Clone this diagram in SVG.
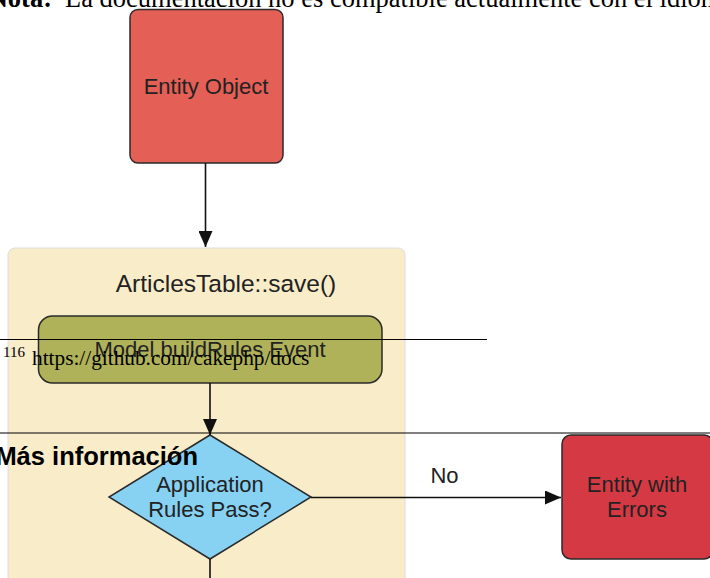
<svg xmlns="http://www.w3.org/2000/svg" width="710" height="578" viewBox="0 0 710 578">
  <defs>
    <style>
      .lbl { font-family: "Liberation Sans", Arial, sans-serif; font-size: 22px; fill: #222; text-anchor: middle; }
      .node { stroke: #2a2a2a; stroke-width: 1.5; }
      .edge { stroke: #111; stroke-width: 1.6; fill: none; }
      .page { font-family: "Liberation Serif", "Times New Roman", serif; fill: #000; }
      .rule { stroke: #000; stroke-width: 1; }
    </style>
    <marker id="arrow" viewBox="0 0 16 14" refX="16" refY="7" markerWidth="16" markerHeight="14" markerUnits="userSpaceOnUse" orient="auto">
      <path d="M0,0 L16,7 L0,14 Z" fill="#111"/>
    </marker>
  </defs>

  <rect width="710" height="578" fill="#fff"/>

  <!-- container for the save() call -->
  <g id="articles-table-save">
    <rect x="8" y="248" width="397" height="400" rx="7" fill="#F9ECC8" stroke="#dcdcdc" stroke-width="1"/>
    <text class="lbl" x="226" y="292" style="font-size:24.5px">ArticlesTable::save()</text>
  </g>

  <g id="entity-object">
    <rect class="node" x="130" y="9.5" width="153" height="153.5" rx="8" fill="#E45F55"/>
    <text class="lbl" x="206" y="94">Entity Object</text>
  </g>

  <g id="build-rules-event">
    <rect class="node" x="38.5" y="316" width="343.5" height="67" rx="14" fill="#B0B25A"/>
    <text class="lbl" x="210" y="357">Model.buildRules Event</text>
  </g>

  <g id="rules-pass">
    <polygon class="node" points="210,435 311,497 210,559 109,497" fill="#87D1F3"/>
    <text class="lbl" x="210" y="492">Application</text>
    <text class="lbl" x="210" y="517">Rules Pass?</text>
  </g>

  <g id="entity-with-errors">
    <rect class="node" x="562" y="435" width="151" height="124" rx="9" fill="#D53A44"/>
    <text class="lbl" x="637" y="492">Entity with</text>
    <text class="lbl" x="637" y="517">Errors</text>
  </g>

  <g id="connectors">
    <line class="edge" x1="205.5" y1="163" x2="205.5" y2="247" marker-end="url(#arrow)"/>
    <line class="edge" x1="210" y1="383" x2="210" y2="435" marker-end="url(#arrow)"/>
    <line class="edge" x1="311" y1="497.5" x2="561" y2="497.5" marker-end="url(#arrow)"/>
    <line class="edge" x1="210" y1="559" x2="210" y2="580"/>
    <text class="lbl" x="444.5" y="483">No</text>
  </g>

  <!-- surrounding page text and rules -->
  <g id="page-text">
    <text class="page" x="52" y="7" text-anchor="end" font-weight="bold" font-size="26.5">Nota:</text>
    <text class="page" x="65" y="7" font-size="26.5">La documentación no es compatible actualmente con el idioma</text>
    <line class="rule" x1="0" y1="339.5" x2="487" y2="339.5"/>
    <text class="page" x="3" y="357" font-size="15">116</text>
    <text class="page" x="32" y="365" font-size="21.3">https://github.com/cakephp/docs</text>
    <line class="rule" x1="0" y1="433" x2="710" y2="433"/>
    <text x="198" y="465" text-anchor="end" font-family="Liberation Sans, Arial, sans-serif" font-weight="bold" font-size="25.5" fill="#000">Más información</text>
  </g>
</svg>
